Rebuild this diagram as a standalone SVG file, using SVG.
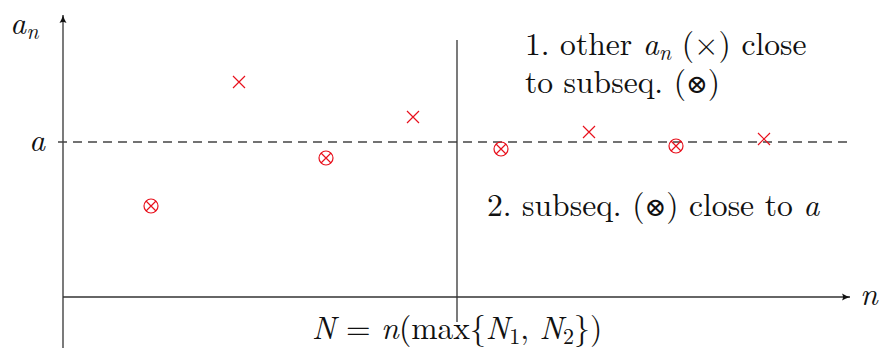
<svg xmlns="http://www.w3.org/2000/svg" width="880" height="349" viewBox="0 0 880 349">
<defs>
<style>
.ax{stroke:#333;stroke-width:1.3;fill:none}
.dash{stroke:#444;stroke-width:1.3;stroke-dasharray:9 6;fill:none}
.mk{stroke:#e8101c;stroke-width:1.2;fill:none}
.t{font-family:"Latin Modern Roman","Liberation Serif",serif;font-size:31.6px;fill:#111}
.i{font-style:italic}
.s{font-size:22px}
.o{font-family:"DejaVu Serif",serif;font-weight:normal;font-size:26px}
</style>
<marker id="arr" viewBox="0 0 10 10" refX="9" refY="5" markerWidth="10" markerHeight="10" markerUnits="userSpaceOnUse" orient="auto">
<path d="M1,1.5 Q5,4 9,5 Q5,6 1,8.5 Q3,5 1,1.5Z" fill="#111"/>
</marker>
<g id="ox"><circle r="7" class="mk"/><path d="M-5,-5L5,5M-5,5L5,-5" class="mk"/></g>
<g id="x"><path d="M-6,-6L6,6M-6,6L6,-6" class="mk"/></g>
</defs>
<g id="connectors">
<line class="ax" x1="63" y1="348" x2="63" y2="15" marker-end="url(#arr)"/>
<line class="ax" x1="63" y1="297" x2="850" y2="297" marker-end="url(#arr)"/>
<line class="dash" x1="58" y1="142" x2="852" y2="142"/>
<line class="ax" x1="457" y1="40" x2="457" y2="322"/>
</g>
<g id="markers">
<use href="#ox" x="151" y="206"/>
<use href="#ox" x="326" y="158"/>
<use href="#ox" x="501" y="149"/>
<use href="#ox" x="676" y="146"/>
<use href="#x" x="239" y="82"/>
<use href="#x" x="413" y="117"/>
<use href="#x" x="589" y="132"/>
<use href="#x" x="764" y="139"/>
</g>
<g id="labels">
<text class="t" x="10" y="34"><tspan class="i">a</tspan><tspan class="i s" dy="5">n</tspan></text>
<text class="t i" x="29" y="151">a</text>
<text class="t i" x="860" y="305">n</text>
<text class="t" x="525" y="55">1.  other <tspan class="i">a</tspan><tspan class="i s" dy="5">n</tspan><tspan dy="-5"> (×) close</tspan></text>
<text class="t" x="525" y="93">to subseq. (<tspan class="o">⊗</tspan>)</text>
<text class="t" x="487" y="216">2.  subseq. (<tspan class="o">⊗</tspan>) close to <tspan class="i">a</tspan></text>
<text class="t" x="312" y="339"><tspan class="i">N</tspan> = <tspan class="i">n</tspan>(max{<tspan class="i">N</tspan><tspan class="s" dy="5">1</tspan><tspan dy="-5">, </tspan><tspan class="i">N</tspan><tspan class="s" dy="5">2</tspan><tspan dy="-5">})</tspan></text>
</g>
</svg>
